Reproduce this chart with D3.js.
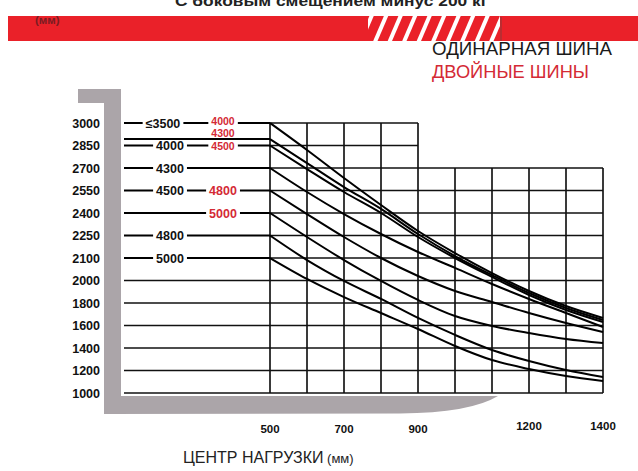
<!DOCTYPE html>
<html>
<head>
<meta charset="utf-8">
<script src="https://cdn.jsdelivr.net/npm/d3@7"></script>
<style>
  html, body { margin: 0; padding: 0; background: #fff; }
  svg { display: block; }
</style>
</head>
<body>
<script>
// ---------- DATA ----------
const loadCenters = [500, 600, 700, 800, 900, 1000, 1100, 1200, 1300, 1400];
const yTickValues = [3000, 2850, 2700, 2550, 2400, 2250, 2100, 2000, 1800, 1600, 1400, 1200, 1000];
const xTickLabels = [500, 700, 900, 1200, 1400];

// capacity (kg) at each load center, one array per mast
const mast3500 = [3000, 2820, 2633, 2453, 2280, 2133, 2033, 1907, 1773, 1667]; // single <=3500 / double 4000
const dual4300 = [2893, 2733, 2573, 2427, 2260, 2113, 2024, 1889, 1756, 1649]; // double 4300
const mast4000 = [2850, 2693, 2540, 2400, 2240, 2100, 2016, 1871, 1738, 1631]; // single 4000 / double 4500
const mast4300 = [2700, 2540, 2393, 2260, 2140, 2056, 1969, 1836, 1711, 1587]; // single 4300
const mast4500 = [2550, 2393, 2240, 2100, 2020, 1907, 1809, 1711, 1622, 1542]; // single 4500 / double 4800
const dual5000 = [2400, 2240, 2091, 1996, 1827, 1684, 1596, 1533, 1480, 1444]; // double 5000
const mast4800 = [2250, 2091, 1996, 1836, 1667, 1516, 1382, 1284, 1204, 1142]; // single 4800
const mast5000 = [2100, 2007, 1853, 1711, 1569, 1418, 1293, 1213, 1151, 1107]; // single 5000

const singleLabels = ["≤3500", "", "4000", "4300", "4500", "", "4800", "5000"];
const doubleLabels = ["4000", "4300", "4500", "", "4800", "5000", "", ""];
const seriesList = [mast3500, dual4300, mast4000, mast4300, mast4500, dual5000, mast4800, mast5000];

const titleText = "С боковым смещением минус 200 кг";
const unitText = "(мм)";
const legendSingle = "ОДИНАРНАЯ ШИНА";
const legendDouble = "ДВОЙНЫЕ ШИНЫ";
const xTitle = "ЦЕНТР НАГРУЗКИ";
const xTitleUnit = " (мм)";

// ---------- SETUP ----------
const W = 638, H = 471;
const RED = "#ea2129";
const LABEL_RED = "#d42a35";
const GRAY = "#aba5a9";
const FONT = "Liberation Sans, Arial, sans-serif";

const svg = d3.select("body").append("svg").attr("width", W).attr("height", H);
svg.append("rect").attr("width", W).attr("height", H).attr("fill", "#fff");

const x = d3.scaleLinear().domain([500, 1400]).range([270, 603]);
const yTop = 123, rowStep = 22.5;
const y = d3.scaleLinear()
  .domain(yTickValues)
  .range(yTickValues.map((d, i) => yTop + i * rowStep));

// ---------- HEADER ----------
svg.append("text").attr("x", 175).attr("y", 6)
  .attr("font-family", FONT)
  .attr("font-weight", "bold").attr("font-size", 15)
  .attr("textLength", 313).attr("lengthAdjust", "spacingAndGlyphs")
  .attr("fill", "#222").text(titleText);

svg.append("rect").attr("x", 8).attr("y", 16).attr("width", W - 8).attr("height", 25).attr("fill", RED);

const clip = svg.append("defs").append("clipPath").attr("id", "hatchClip");
clip.append("rect").attr("x", 368).attr("y", 16).attr("width", 132).attr("height", 26);
const hatch = svg.append("g").attr("clip-path", "url(#hatchClip)");
d3.range(360, 505, 14.5).forEach(s => {
  hatch.append("line").attr("x1", s).attr("y1", 43).attr("x2", s + 12).attr("y2", 15)
    .attr("stroke", "#fff").attr("stroke-width", 4);
});
svg.append("line").attr("x1", 501).attr("x2", 501).attr("y1", 17).attr("y2", 41)
  .attr("stroke", "#8a3a3a").attr("stroke-width", 1);

svg.append("text").attr("x", 35).attr("y", 24)
  .attr("font-family", FONT)
  .attr("font-weight", "bold").attr("font-size", 11.5)
  .attr("fill", "#7a1c22").text(unitText);

svg.append("text").attr("x", 432).attr("y", 55)
  .attr("font-family", FONT)
  .attr("font-size", 17.5).attr("textLength", 180).attr("lengthAdjust", "spacingAndGlyphs")
  .attr("fill", "#1a1a1a").text(legendSingle);
svg.append("text").attr("x", 432).attr("y", 78)
  .attr("font-family", FONT)
  .attr("font-size", 17.5).attr("textLength", 157).attr("lengthAdjust", "spacingAndGlyphs")
  .attr("fill", LABEL_RED).text(legendDouble);

// ---------- GRID ----------
const grid = svg.append("g");
loadCenters.forEach(v => {
  const top = v <= 900 ? y(3000) : y(2700);
  grid.append("line").attr("x1", x(v)).attr("x2", x(v))
    .attr("y1", top).attr("y2", y(1000))
    .attr("stroke", "#3a3a3a").attr("stroke-width", 2);
});
yTickValues.forEach(v => {
  const right = v > 2700 ? x(900) : x(1400);
  const left = v <= 2000 ? 124 : x(500);
  grid.append("line").attr("x1", left).attr("x2", right)
    .attr("y1", y(v)).attr("y2", y(v))
    .attr("stroke", "#111").attr("stroke-width", 1.7);
});

// ---------- CURVES ----------
const line = d3.line().x(d => x(d[0])).y(d => y(d[1])).curve(d3.curveMonotoneX);
const curves = svg.append("g");
seriesList.forEach(s => {
  curves.append("path")
    .attr("d", line(loadCenters.map((c, i) => [c, s[i]])))
    .attr("fill", "none").attr("stroke", "#000").attr("stroke-width", 2);
  curves.append("line").attr("x1", 124).attr("x2", x(500))
    .attr("y1", y(s[0])).attr("y2", y(s[0]))
    .attr("stroke", "#000").attr("stroke-width", 2);
});

// ---------- LEFT LABELS ----------
const labG = svg.append("g")
  .attr("font-family", FONT)
  .attr("font-weight", "bold");
function addLabel(txt, cx, cy, color, size) {
  const t = labG.append("text").attr("x", cx).attr("y", cy).attr("dy", "0.36em")
    .attr("font-size", size)
    .attr("text-anchor", "middle").attr("fill", color).text(txt);
  const bb = t.node().getBBox();
  labG.insert("rect", () => t.node())
    .attr("x", bb.x - 3).attr("y", cy - 4).attr("width", bb.width + 6).attr("height", 8)
    .attr("fill", "#fff");
}
seriesList.forEach((s, i) => {
  const cy = y(s[0]);
  if (singleLabels[i]) addLabel(singleLabels[i], i === 0 ? 163 : 170, cy, "#111", 12.5);
  if (doubleLabels[i]) {
    let dyOff = 0, size = 12.5;
    if (i === 0) { dyOff = -2; size = 10.5; }
    if (i === 1) { dyOff = -5.5; size = 10.5; }
    if (i === 2) { dyOff = 0.5; size = 10.5; }
    addLabel(doubleLabels[i], 223, cy + dyOff, LABEL_RED, size);
  }
});

// ---------- FORK SHAPE ----------
const fork = d3.path();
fork.moveTo(78, 89);
fork.lineTo(121, 89);
fork.lineTo(121, 396);
fork.lineTo(498, 396);
fork.quadraticCurveTo(470, 413, 400, 413.5);
fork.lineTo(104, 414);
fork.lineTo(104, 103);
fork.lineTo(78, 103);
fork.closePath();
svg.append("path").attr("d", fork.toString()).attr("fill", GRAY);

// ---------- AXIS LABELS ----------
const yAx = svg.append("g")
  .attr("font-family", FONT)
  .attr("font-weight", "bold").attr("font-size", 12.5).attr("fill", "#111");
yTickValues.forEach(v => {
  yAx.append("text").attr("x", 100).attr("y", y(v)).attr("dy", "0.36em")
    .attr("text-anchor", "end").text(v);
});

const xAx = svg.append("g")
  .attr("font-family", FONT)
  .attr("font-weight", "bold").attr("font-size", 11.5).attr("fill", "#111");
xTickLabels.forEach(v => {
  xAx.append("text").attr("x", x(v)).attr("y", v >= 1200 ? 430 : 433)
    .attr("text-anchor", "middle").text(v);
});

const xt = svg.append("text").attr("x", 183).attr("y", 463)
  .attr("font-family", FONT)
  .attr("font-size", 16).attr("fill", "#222");
xt.append("tspan").text(xTitle);
xt.append("tspan").attr("font-size", 13).text(xTitleUnit);
</script>
</body>
</html>
